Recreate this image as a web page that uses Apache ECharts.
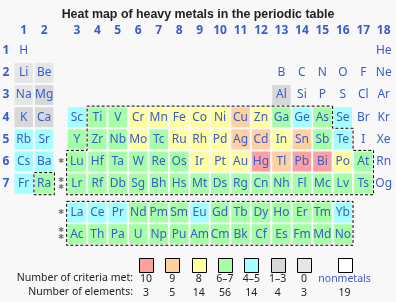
<!DOCTYPE html>
<html>
<head>
<meta charset="utf-8">
<script src="https://cdn.jsdelivr.net/npm/echarts@6/dist/echarts.min.js"></script>
<style>html,body{margin:0;padding:0;background:#f8f8f8;}#c{width:396px;height:302px;}</style>
</head>
<body>
<div id="c"></div>
<script>
// ---- data ----
const titleText = 'Heat map of heavy metals in the periodic table';
const groupLabels = ['1','2','3','4','5','6','7','8','9','10','11','12','13','14','15','16','17','18'];
const periodLabels = ['1','2','3','4','5','6','7'];
// symbols per period, 18 group slots ('' = empty)
const p1 = ['H','','','','','','','','','','','','','','','','','He'];
const p2 = ['Li','Be','','','','','','','','','','','B','C','N','O','F','Ne'];
const p3 = ['Na','Mg','','','','','','','','','','','Al','Si','P','S','Cl','Ar'];
const p4 = ['K','Ca','Sc','Ti','V','Cr','Mn','Fe','Co','Ni','Cu','Zn','Ga','Ge','As','Se','Br','Kr'];
const p5 = ['Rb','Sr','Y','Zr','Nb','Mo','Tc','Ru','Rh','Pd','Ag','Cd','In','Sn','Sb','Te','I','Xe'];
const p6 = ['Cs','Ba','Lu','Hf','Ta','W','Re','Os','Ir','Pt','Au','Hg','Tl','Pb','Bi','Po','At','Rn'];
const p7 = ['Fr','Ra','Lr','Rf','Db','Sg','Bh','Hs','Mt','Ds','Rg','Cn','Nh','Fl','Mc','Lv','Ts','Og'];
const lanthanides = ['La','Ce','Pr','Nd','Pm','Sm','Eu','Gd','Tb','Dy','Ho','Er','Tm','Yb'];
const actinides   = ['Ac','Th','Pa','U','Np','Pu','Am','Cm','Bk','Cf','Es','Fm','Md','No'];
// criteria class per cell: A=10, B=9, C=8, D=6–7, E=4–5, F=1–3, G=0, N=nonmetal, -=empty
const c1 = 'N----------------N';
const c2 = 'GG----------NNNNNN';
const c3 = 'GF----------FNNNNN';
const c4 = 'FFEDDCCCCCBCDEDENN';
const c5 = 'EEDDDCDCCCBBCBDENN';
const c6 = 'EEDDDDDDCCCABAACDN';
const c7 = 'EDDDDDDDDDDDDDDDDN';
const cLan = 'EEEDDDEDDDDDDE';
const cAct = 'DDDDDDDDDDDDDD';
// heavy-metal outline: per period [first group, last group]
const heavyRanges = {4:[4,15], 5:[4,16], 6:[3,17], 7:[3,17]};
const raBox = {7:[2,2]};
// legend
const legendCodes  = ['A','B','C','D','E','F','G','N'];
const legendLabels = ['10','9','8','6–7','4–5','1–3','0','nonmetals'];
const legendCounts = ['3','5','14','56','14','4','3','19'];
const legendRowLabels = ['Number of criteria met:','Number of elements:'];

// ---- styling / layout ----
const FILL = {A:'#ffa0a0', B:'#ffd0a0', C:'#ffffa0', D:'#a6ffa6', E:'#a6ffff', F:'#d8d8d8', G:'#e6e6e6', N:null};
const BLUE = '#3a5ccc';
const FONT = '"Noto Sans", "Open Sans", sans-serif';
const GAP = 0.6;                  // extra space between group 2 and group 3
const colOf = g => g >= 3 ? g + GAP : g;
const LAN_ROW = 8.3, ACT_ROW = 9.28;
const HEADER_ROW = 0.1, LABEL_COL = 0.13, MARK_COL = 2.83;

const periods = [p1,p2,p3,p4,p5,p6,p7];
const classes = [c1,c2,c3,c4,c5,c6,c7];
const cells = [];
periods.forEach((row, i) => {
  row.forEach((sym, j) => {
    if (sym) cells.push([colOf(j + 1), i + 1, sym, classes[i][j]]);
  });
});
lanthanides.forEach((sym, i) => cells.push([colOf(3 + i), LAN_ROW, sym, cLan[i]]));
actinides.forEach((sym, i) => cells.push([colOf(3 + i), ACT_ROW, sym, cAct[i]]));

const headers = [];
groupLabels.forEach((t, i) => headers.push([colOf(i + 1), HEADER_ROW, t]));
periodLabels.forEach((t, i) => headers.push([LABEL_COL, i + 1, t]));

const markers = [[MARK_COL, 6, 1], [MARK_COL, 7, 2], [MARK_COL, LAN_ROW, 1], [MARK_COL, ACT_ROW, 2]];

function outlinePoints(ranges) {
  const rows = Object.keys(ranges).map(Number).sort((a,b)=>a-b);
  const pts = [];
  rows.forEach(r => { const R = colOf(ranges[r][1]) + 0.5; pts.push([R, r - 0.5], [R, r + 0.5]); });
  rows.slice().reverse().forEach(r => { const L = colOf(ranges[r][0]) - 0.5; pts.push([L, r + 0.5], [L, r - 0.5]); });
  return pts;
}
const outlines = [
  outlinePoints(heavyRanges),
  outlinePoints(raBox),
  [[colOf(3)-0.5, LAN_ROW-0.5],[colOf(16)+0.5, LAN_ROW-0.5],[colOf(16)+0.5, ACT_ROW+0.5],[colOf(3)-0.5, ACT_ROW+0.5]]
];

const legendData = legendCodes.map((code, i) => [code === 'N' ? i + 0.54 : i, 0.5, code, legendLabels[i], legendCounts[i]]);

const chart = echarts.init(document.getElementById('c'), null, {renderer: 'canvas'});
const PX = 20.75, PY = 22.16;
chart.setOption({
  backgroundColor: '#f8f8f8',
  animation: false,
  title: {
    text: titleText, left: 'center', top: 4,
    textStyle: {fontSize: 12.4, fontWeight: 'bold', color: '#222', fontFamily: '"Liberation Sans", Arial, sans-serif'}
  },
  grid: [
    {left: 24 - PX, top: 50.7 - PY, width: 19.2 * PX, height: 10 * PY},
    {left: 146, top: 258, width: 8 * 26.33, height: 42}
  ],
  xAxis: [
    {type: 'value', min: 0, max: 19.2, show: false, gridIndex: 0},
    {type: 'value', min: 0, max: 8, show: false, gridIndex: 1}
  ],
  yAxis: [
    {type: 'value', min: 0, max: 10, inverse: true, show: false, gridIndex: 0},
    {type: 'value', min: 0, max: 3, inverse: true, show: false, gridIndex: 1}
  ],
  graphic: legendRowLabels.map((t, i) => ({
    type: 'text', right: 396 - 133, top: 273 + i * 13.5,
    style: {text: t, fill: '#222', font: '10.5px ' + FONT, align: 'right'}
  })),
  series: [
    {
      type: 'custom', xAxisIndex: 0, yAxisIndex: 0, data: cells,
      renderItem: (params, api) => {
        const c = api.coord([api.value(0), api.value(1)]);
        const s = api.size([1, 1]);
        const w = s[0] * 0.9, h = s[1] * 0.9;
        const d = cells[params.dataIndex];
        const ch = [];
        if (FILL[d[3]]) ch.push({type: 'rect', shape: {x: c[0] - w / 2, y: c[1] - h / 2, width: w, height: h}, style: {fill: FILL[d[3]]}});
        ch.push({type: 'text', style: {text: d[2], x: c[0], y: c[1], align: 'center', verticalAlign: 'middle', fill: BLUE, font: '12px ' + FONT}});
        return {type: 'group', children: ch};
      }
    },
    {
      type: 'custom', xAxisIndex: 0, yAxisIndex: 0, data: headers,
      renderItem: (params, api) => {
        const c = api.coord([api.value(0), api.value(1)]);
        return {type: 'text', style: {text: headers[params.dataIndex][2], x: c[0], y: c[1], align: 'center', verticalAlign: 'middle', fill: BLUE, font: 'bold 12px ' + FONT}};
      }
    },
    {
      type: 'custom', xAxisIndex: 0, yAxisIndex: 0, data: markers,
      renderItem: (params, api) => {
        const c = api.coord([api.value(0), api.value(1)]);
        const n = api.value(2);
        const ch = [];
        for (let k = 0; k < n; k++) {
          const dy = n === 1 ? 0 : (k === 0 ? -3.5 : 3.5);
          ch.push({type: 'text', style: {text: '✱', x: c[0], y: c[1] + dy, align: 'center', verticalAlign: 'middle', fill: '#777', font: '7px "DejaVu Sans"'}});
        }
        return {type: 'group', children: ch};
      }
    },
    {
      type: 'custom', xAxisIndex: 0, yAxisIndex: 0, data: outlines.map((o, i) => [0, 0, i]), z: 5,
      renderItem: (params, api) => {
        const pts = outlines[params.dataIndex].map(p => api.coord(p));
        return {type: 'polygon', shape: {points: pts}, style: {fill: null, stroke: '#000', lineWidth: 1, lineDash: [3, 2]}};
      }
    },
    {
      type: 'custom', xAxisIndex: 1, yAxisIndex: 1, data: legendData,
      renderItem: (params, api) => {
        const d = legendData[params.dataIndex];
        const c = api.coord([d[0], d[1]]);
        const c1p = api.coord([d[0], 1.5]);
        const c2p = api.coord([d[0], 2.5]);
        return {type: 'group', children: [
          {type: 'rect', shape: {x: Math.round(c[0] - 7) + 0.5, y: Math.round(c[1] - 7) + 0.5, width: 14, height: 14}, style: {fill: FILL[d[2]] || '#ffffff', stroke: '#000', lineWidth: 1}},
          {type: 'text', style: {text: d[3], x: c1p[0], y: c1p[1], align: 'center', verticalAlign: 'middle', fill: d[2] === 'N' ? BLUE : '#222', font: '10.5px ' + FONT}},
          {type: 'text', style: {text: d[4], x: c2p[0], y: c2p[1], align: 'center', verticalAlign: 'middle', fill: '#222', font: '10.5px ' + FONT}}
        ]};
      }
    }
  ]
});
</script>
</body>
</html>
